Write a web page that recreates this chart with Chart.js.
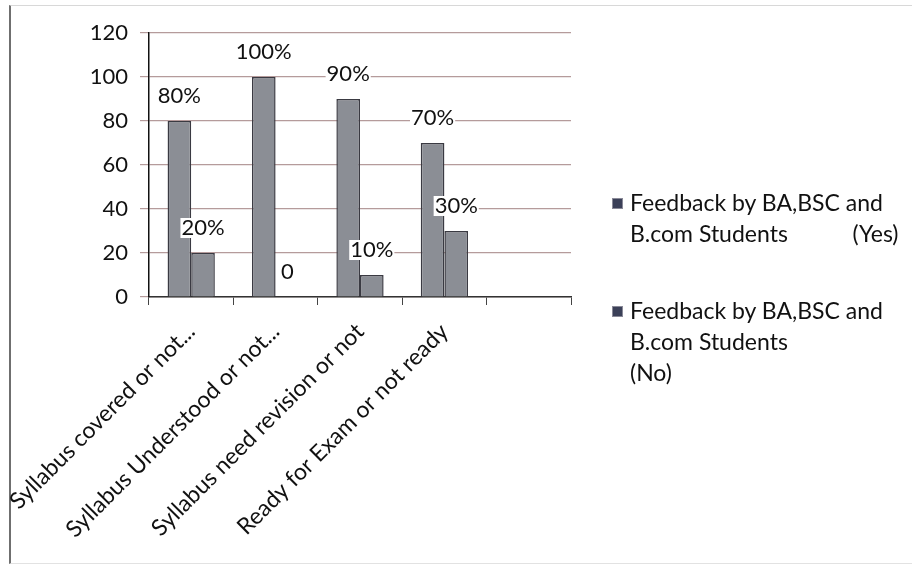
<!DOCTYPE html>
<html>
<head>
<meta charset="utf-8">
<script src="https://cdn.jsdelivr.net/npm/chart.js@4.4.1/dist/chart.umd.min.js"></script>
<style>
  html, body { margin: 0; padding: 0; background: #fff; }
  #wrap { position: relative; width: 912px; height: 565px; overflow: hidden; }
  #frame { position: absolute; left: 9px; top: 5px; width: 920px; height: 557px;
           border-left: 2px solid #6f6f6f; border-top: 1px solid #d8d8d8; border-bottom: 1px solid #e2e2e2; }
  canvas { position: absolute; left: 0; top: 0; }
  #legend { position: absolute; left: 609px; top: 187px; font-family: Lato, "Open Sans", sans-serif;
            font-size: 23px; color: #111; line-height: 31px; }
  .item { position: relative; padding-left: 21px; margin-bottom: 46px; white-space: pre; }
  .sw { position: absolute; left: 3px; top: 11px; width: 9px; height: 9px; background: #3b4058;
        border: 1px solid #8a8a98; }
</style>
</head>
<body>
<div id="wrap">
  <div id="frame"></div>
  <canvas id="c" width="912" height="565"></canvas>
  <div id="legend"></div>
</div>
<script>
const categories = [
  'Syllabus covered or not...',
  'Syllabus Understood or not...',
  'Syllabus need revision or not',
  'Ready for Exam or not ready',
  ''
];
const yesValues = [80, 100, 90, 70, null];
const noValues  = [20, 0, 10, 30, null];
const yesLabels = ['80%', '100%', '90%', '70%', ''];
const noLabels  = ['20%', '0', '10%', '30%', ''];
const yTicks = [0, 20, 40, 60, 80, 100, 120];
const seriesYesLines = ['Feedback by BA,BSC and', 'B.com Students           (Yes)'];
const seriesNoLines  = ['Feedback by BA,BSC and', 'B.com Students', '(No)'];

const FONT = 'Lato, "Open Sans", sans-serif';

const legendEl = document.getElementById('legend');
[seriesYesLines, seriesNoLines].forEach(lines => {
  const d = document.createElement('div');
  d.className = 'item';
  d.innerHTML = '<span class="sw"></span>';
  d.appendChild(document.createTextNode(lines.join('\n')));
  legendEl.appendChild(d);
});

const labelPlugin = {
  id: 'barLabels',
  afterDatasetsDraw(chart) {
    const ctx = chart.ctx;
    const sets = [yesLabels, noLabels];
    ctx.save();
    ctx.font = '22px ' + FONT;
    ctx.textAlign = 'center';
    ctx.textBaseline = 'middle';
    chart.data.datasets.forEach((ds, i) => {
      const meta = chart.getDatasetMeta(i);
      meta.data.forEach((el, j) => {
        const t = sets[i][j];
        if (!t) return;
        const y = el.y - 25;
        const w = ctx.measureText(t).width;
        ctx.fillStyle = '#fff';
        ctx.fillRect(el.x - w / 2 - 1, y - 10, w + 2, 20);
        ctx.fillStyle = '#111';
        ctx.fillText(t, el.x, y);
      });
    });
    ctx.restore();
  }
};

new Chart(document.getElementById('c'), {
  type: 'bar',
  data: {
    labels: categories,
    datasets: [
      { label: seriesYesLines.join(' '), data: yesValues, backgroundColor: '#8b8e95',
        borderColor: '#3a3a42', borderWidth: 1.5, categoryPercentage: 0.56, barPercentage: 1 },
      { label: seriesNoLines.join(' '), data: noValues, backgroundColor: '#8b8e95',
        borderColor: '#3a3a42', borderWidth: 1.5, categoryPercentage: 0.56, barPercentage: 1 }
    ]
  },
  options: {
    responsive: false,
    animation: false,
    layout: { padding: { left: 0, right: 341, top: 33, bottom: 0 } },
    plugins: { legend: { display: false }, tooltip: { enabled: false } },
    scales: {
      x: {
        grid: { display: true, drawOnChartArea: false, drawTicks: true, tickLength: 8, color: '#444', offset: true },
        border: { color: '#333', width: 1.5 },
        ticks: { font: { family: FONT, size: 23 }, color: '#111', minRotation: 45, maxRotation: 45,
                 autoSkip: false, padding: 13 },
        afterFit(s) { s.height = 268; s.paddingLeft = 0; s.paddingRight = 0; }
      },
      y: {
        min: 0, max: 120,
        afterBuildTicks(s) { s.ticks = yTicks.map(v => ({ value: v })); },
        grid: { color: '#b59b9b', tickLength: 9, lineWidth: 1.2 },
        border: { color: '#111', width: 1.5 },
        ticks: { font: { family: FONT, size: 22 }, color: '#111', padding: 12 },
        afterFit(s) { s.width = 149; s.paddingTop = 0; s.paddingBottom = 0; }
      }
    }
  },
  plugins: [labelPlugin]
});
</script>
</body>
</html>
